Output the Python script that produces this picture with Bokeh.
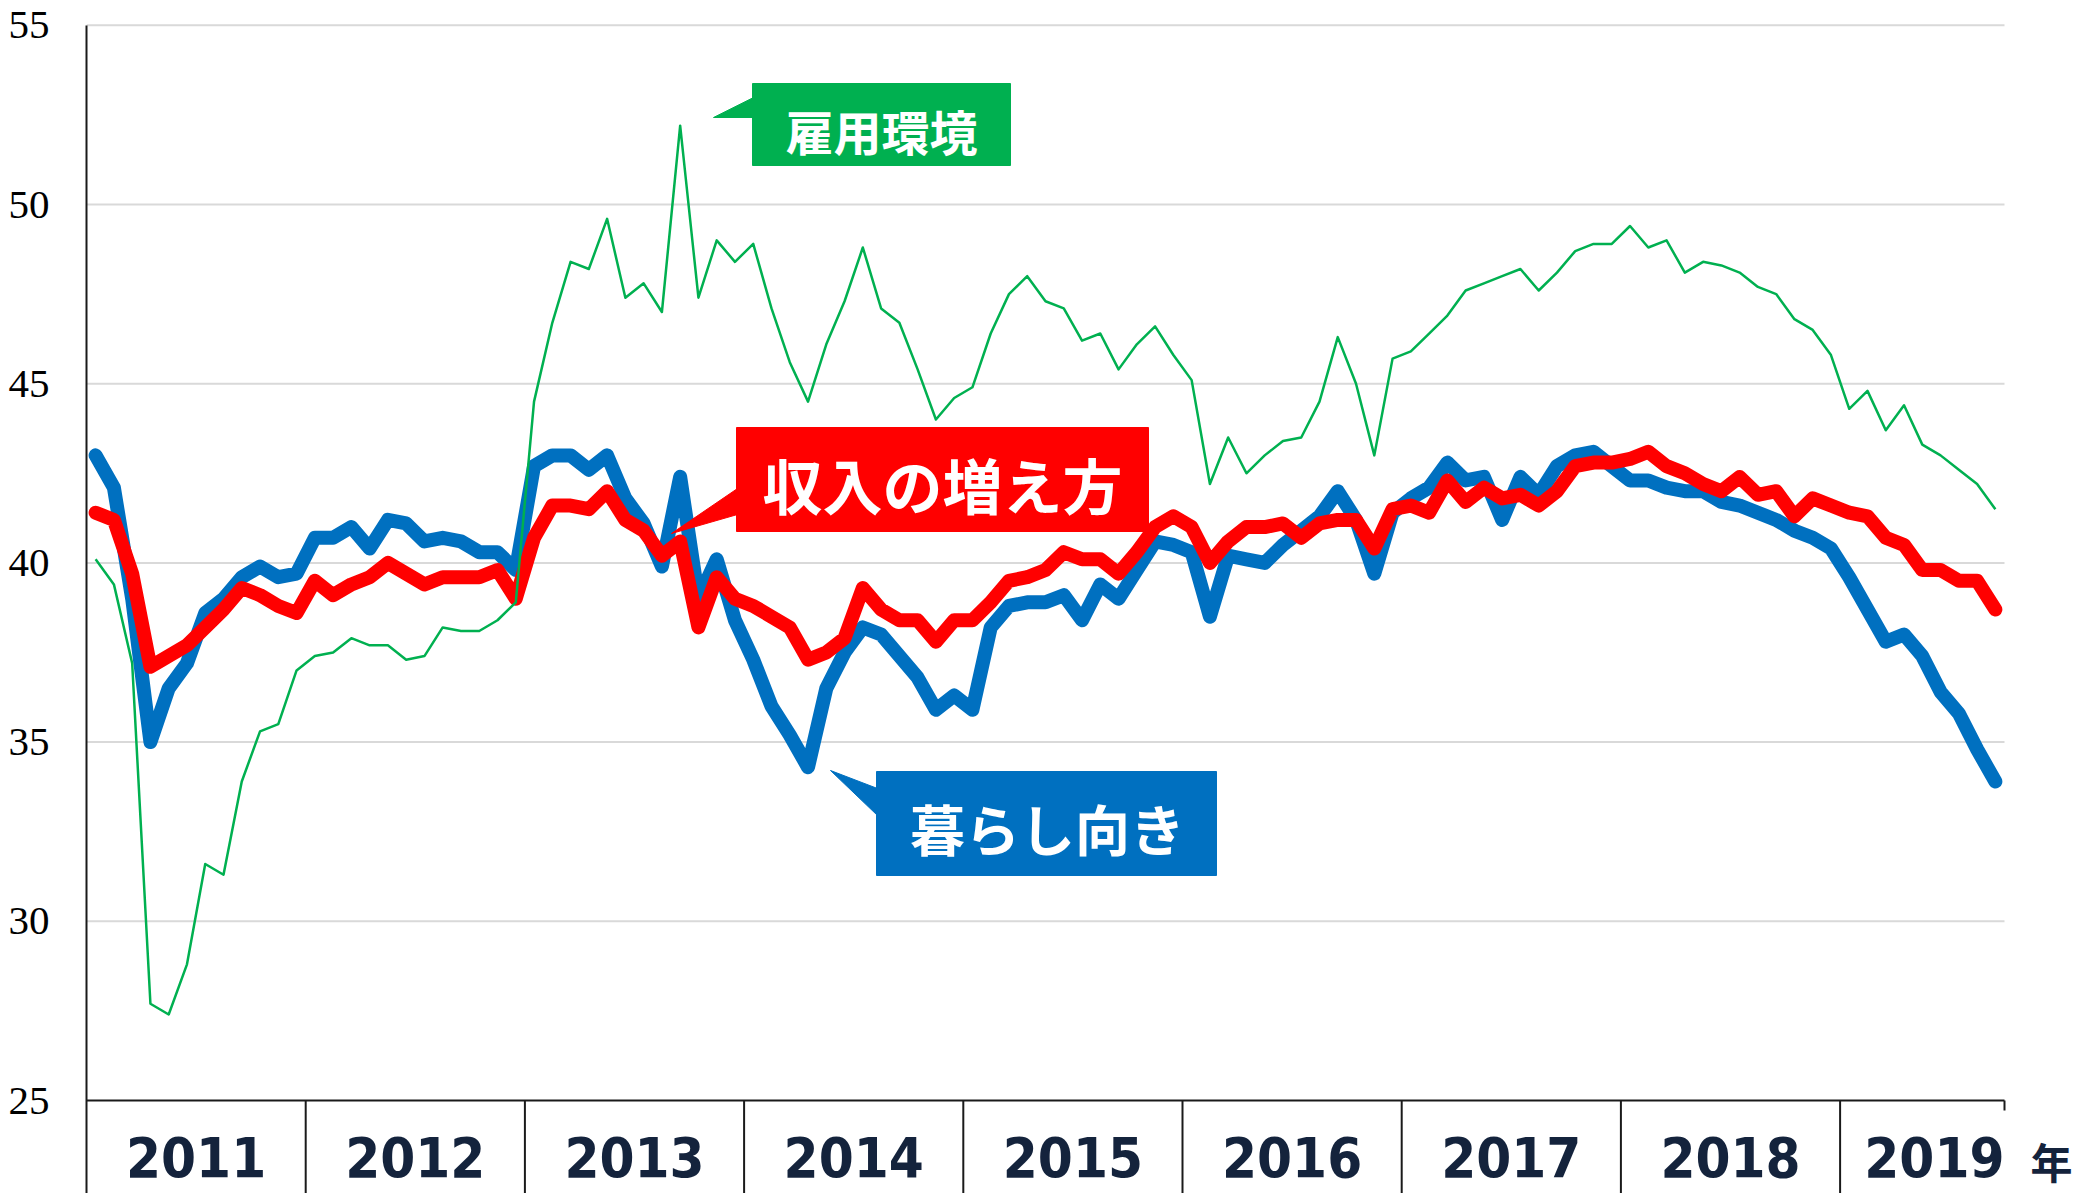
from bokeh.plotting import figure
from bokeh.models import Range1d, FixedTicker
from bokeh.embed import file_html
from bokeh.resources import INLINE
from bokeh.core.properties import value

# ---------------- data (monthly, Jan 2011 - Sep 2019) ----------------
years = ["2011", "2012", "2013", "2014", "2015", "2016", "2017", "2018", "2019"]
months_per_year = [12, 12, 12, 12, 12, 12, 12, 12, 9]

# 暮らし向き (blue)
kurashi = [43.0, 42.1, 39.0, 35.0, 36.5, 37.2, 38.6, 39.0, 39.6, 39.9, 39.6, 39.7,
           40.7, 40.7, 41.0, 40.4, 41.2, 41.1, 40.6, 40.7, 40.6, 40.3, 40.3, 39.8,
           42.7, 43.0, 43.0, 42.6, 43.0, 41.8, 41.1, 39.9, 42.4, 39.0, 40.1, 38.4,
           37.3, 36.0, 35.2, 34.3, 36.5, 37.5, 38.2, 38.0, 37.4, 36.8, 35.9, 36.3,
           35.9, 38.2, 38.8, 38.9, 38.9, 39.1, 38.4, 39.4, 39.0, 39.8, 40.6, 40.5,
           40.3, 38.5, 40.2, 40.1, 40.0, 40.5, 40.9, 41.3, 42.0, 41.2, 39.7, 41.4,
           41.8, 42.1, 42.8, 42.3, 42.4, 41.2, 42.4, 41.9, 42.7, 43.0, 43.1, 42.7,
           42.3, 42.3, 42.1, 42.0, 42.0, 41.7, 41.6, 41.4, 41.2, 40.9, 40.7, 40.4,
           39.6, 38.7, 37.8, 38.0, 37.4, 36.4, 35.8, 34.8, 33.9]

# 収入の増え方 (red)
shunyu = [41.4, 41.2, 39.7, 37.1, 37.4, 37.7, 38.2, 38.7, 39.3, 39.1, 38.8, 38.6,
          39.5, 39.1, 39.4, 39.6, 40.0, 39.7, 39.4, 39.6, 39.6, 39.6, 39.8, 39.0,
          40.7, 41.6, 41.6, 41.5, 42.0, 41.2, 40.9, 40.2, 40.6, 38.2, 39.6, 39.0,
          38.8, 38.5, 38.2, 37.3, 37.5, 37.9, 39.3, 38.7, 38.4, 38.4, 37.8, 38.4,
          38.4, 38.9, 39.5, 39.6, 39.8, 40.3, 40.1, 40.1, 39.7, 40.3, 41.0, 41.3,
          41.0, 40.0, 40.6, 41.0, 41.0, 41.1, 40.7, 41.1, 41.2, 41.2, 40.4, 41.5,
          41.6, 41.4, 42.3, 41.7, 42.1, 41.8, 41.9, 41.6, 42.0, 42.7, 42.8, 42.8,
          42.9, 43.1, 42.7, 42.5, 42.2, 42.0, 42.4, 41.9, 42.0, 41.3, 41.8, 41.6,
          41.4, 41.3, 40.7, 40.5, 39.8, 39.8, 39.5, 39.5, 38.7]

# 雇用環境 (green)
koyo = [40.1, 39.4, 37.2, 27.7, 27.4, 28.8, 31.6, 31.3, 33.9, 35.3, 35.5, 37.0,
        37.4, 37.5, 37.9, 37.7, 37.7, 37.3, 37.4, 38.2, 38.1, 38.1, 38.4, 38.9,
        44.5, 46.7, 48.4, 48.2, 49.6, 47.4, 47.8, 47.0, 52.2, 47.4, 49.0, 48.4,
        48.9, 47.1, 45.6, 44.5, 46.1, 47.3, 48.8, 47.1, 46.7, 45.4, 44.0, 44.6,
        44.9, 46.4, 47.5, 48.0, 47.3, 47.1, 46.2, 46.4, 45.4, 46.1, 46.6, 45.8,
        45.1, 42.2, 43.5, 42.5, 43.0, 43.4, 43.5, 44.5, 46.3, 45.0, 43.0, 45.7,
        45.9, 46.4, 46.9, 47.6, 47.8, 48.0, 48.2, 47.6, 48.1, 48.7, 48.9, 48.9,
        49.4, 48.8, 49.0, 48.1, 48.4, 48.3, 48.1, 47.7, 47.5, 46.8, 46.5, 45.8,
        44.3, 44.8, 43.7, 44.4, 43.3, 43.0, 42.6, 42.2, 41.5]

y_ticks = [25, 30, 35, 40, 45, 50, 55]
unit_label = "年"
label_koyo = "雇用環境"
label_shunyu = "収入の増え方"
label_kurashi = "暮らし向き"

# ---------------- layout ----------------
W, H = 2080, 1193
LEFT = 86            # frame left (y-axis position)
X_AXIS_PX = 1100     # pixel row of the value-axis minimum
TOP_TICK_PX = 24.8   # pixel row of the value-axis maximum
RIGHT_PX = 2004      # end of category axis
N = len(kurashi)
PPM = (RIGHT_PX - LEFT) / N
PPU = (X_AXIS_PX - TOP_TICK_PX) / (y_ticks[-1] - y_ticks[0])

x_end = (W - LEFT) / PPM
y_start = y_ticks[0] - (H - X_AXIS_PX) / PPU
y_end = y_ticks[0] + X_AXIS_PX / PPU

YEAR_FONT = "DejaVu Sans Condensed, Roboto, sans-serif"
CJK_FONT = "Noto Sans CJK JP"


def dx(xp):
    return (xp - LEFT) / PPM


def dy(yp):
    return y_ticks[0] + (X_AXIS_PX - yp) / PPU


xs = [i + 0.5 for i in range(N)]

p = figure(width=W, height=H, output_backend="svg", toolbar_location=None,
           x_range=Range1d(0, x_end), y_range=Range1d(y_start, y_end),
           x_axis_location=None, min_border_left=LEFT, min_border_right=0,
           min_border_top=0, min_border_bottom=0)
p.outline_line_color = None
p.grid.visible = False
p.background_fill_color = "white"
p.border_fill_color = "white"

yax = p.yaxis[0]
yax.ticker = FixedTicker(ticks=y_ticks, minor_ticks=[])
yax.bounds = (y_start, y_ticks[-1])
yax.axis_line_color = "#1a1a1a"
yax.axis_line_width = 2
yax.major_tick_line_color = None
yax.minor_tick_line_color = None
yax.major_label_text_font = "Liberation Serif"
yax.major_label_text_font_size = "41px"
yax.major_label_text_color = "#000000"
yax.major_label_standoff = 31

# gridlines
for t in y_ticks[1:]:
    p.segment(x0=[0], y0=[t], x1=[N], y1=[t], line_color="#d9d9d9", line_width=2)

# category axis line
p.segment(x0=[0], y0=[y_ticks[0]], x1=[N], y1=[y_ticks[0]], line_color="#1a1a1a", line_width=2)

# year separators
bounds = [0]
for m in months_per_year:
    bounds.append(bounds[-1] + m)
for b in bounds[1:-1]:
    p.segment(x0=[b], y0=[y_ticks[0]], x1=[b], y1=[y_start], line_color="#1a1a1a", line_width=2)
p.segment(x0=[bounds[-1]], y0=[y_ticks[0]], x1=[bounds[-1]], y1=[dy(X_AXIS_PX + 10)],
          line_color="#1a1a1a", line_width=2)

# series
p.line(xs, kurashi, line_color="#0070C0", line_width=14, line_join="round", line_cap="round")
p.line(xs, shunyu, line_color="#FF0000", line_width=14, line_join="round", line_cap="round")
p.line(xs, koyo, line_color="#00B050", line_width=2.5, line_join="round")

# year labels
centers = [(bounds[k] + bounds[k + 1]) / 2 for k in range(len(years))]
lab_y = dy(1156)
p.text(x=centers[:-1], y=[lab_y] * (len(years) - 1), text=years[:-1],
       text_font=value(YEAR_FONT), text_font_style="bold",
       text_font_size="56px", text_color="#14233C",
       text_align="center", text_baseline="middle")
p.text(x=[bounds[-1]], y=[lab_y], text=[years[-1]],
       text_font=value(YEAR_FONT), text_font_style="bold",
       text_font_size="56px", text_color="#14233C",
       text_align="right", text_baseline="middle")
p.text(x=[dx(2051)], y=[dy(1160)], text=[unit_label],
       text_font=value(CJK_FONT), text_font_style="bold",
       text_font_size="42px", text_color="#14233C",
       text_align="center", text_baseline="middle")


# callouts
def callout(box, tri, label, color, size, center):
    x0, y0, x1, y1 = box
    p.patch([dx(t[0]) for t in tri], [dy(t[1]) for t in tri],
            fill_color=color, line_color=color, line_width=1)
    p.quad(left=[dx(x0)], right=[dx(x1)], top=[dy(y0)], bottom=[dy(y1)],
           fill_color=color, line_color=color)
    p.text(x=[dx(center[0])], y=[dy(center[1])], text=[label],
           text_font=value(CJK_FONT), text_font_style="bold",
           text_font_size=size, text_color="white",
           text_align="center", text_baseline="middle")


callout((752, 83, 1010, 165), [(753, 97), (713, 117), (753, 117)],
        label_koyo, "#00B050", "48px", (881, 129))
callout((736, 427, 1148, 531), [(737, 488), (671, 533), (737, 514)],
        label_shunyu, "#FF0000", "60px", (942, 483))
callout((876, 771, 1216, 875), [(877, 788), (830, 770), (877, 815)],
        label_kurashi, "#0070C0", "55px", (1047, 826))

open("out.html", "w").write(file_html(p, INLINE))
